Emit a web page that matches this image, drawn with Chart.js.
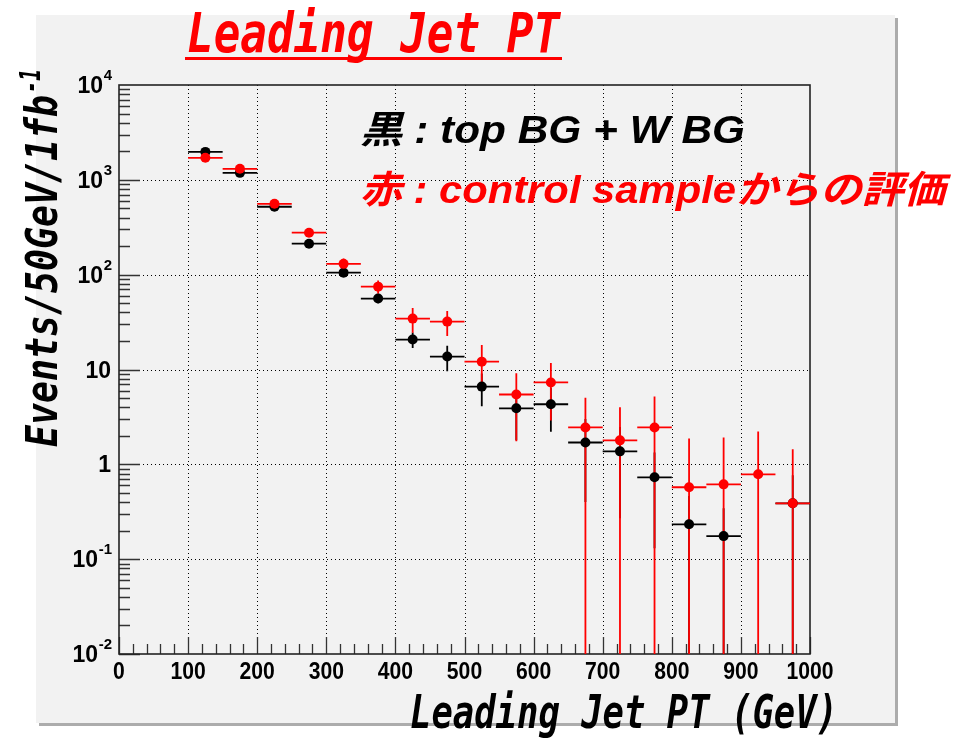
<!DOCTYPE html>
<html>
<head>
<meta charset="utf-8">
<script src="https://cdn.jsdelivr.net/npm/chart.js@4.4.1/dist/chart.umd.min.js"></script>
<style>
  html, body { margin: 0; padding: 0; background: #fff; }
  #wrap { width: 969px; height: 739px; }
</style>
</head>
<body>
<div id="wrap"><canvas id="ptChart" width="969" height="739"></canvas></div>
<script>
// bins of 50 GeV, centre values
const binCenters = [125, 175, 225, 275, 325, 375, 425, 475, 525, 575, 625, 675, 725, 775, 825, 875, 925, 975];
const binHalfWidth = 25;

// black: top BG + W BG
const topWBG    = [1970, 1185, 520, 212, 105, 56, 20.7, 13.7, 6.6, 3.9, 4.3, 1.7, 1.37, 0.73, 0.233, 0.175, null, 0.388];
const topWBGErr = [110, 70, 35, 18, 10, 6, 3.8, 4.1, 2.5, 2.1, 2.1, 1.3, 1.1, 0.6, 0.23, 0.17, null, 0.38];

// red: control sample estimate
const controlEst    = [1706, 1306, 559, 277, 130, 74.8, 34.4, 32, 12.1, 5.45, 7.3, 2.45, 1.79, 2.45, 0.573, 0.615, 0.785, 0.388];
const controlEstErr = [110, 150, 45, 25, 18, 12, 10, 9.5, 6, 3.7, 4.4, 2.6, 2.2, 2.75, 1.3, 1.3, 1.44, 1.05];

// axis ticks
const xTickValues = [0, 100, 200, 300, 400, 500, 600, 700, 800, 900, 1000];
const yTickExps = [-2, -1, 0, 1, 2, 3, 4];
const yTickLabels = [["10", "-2"], ["10", "-1"], ["1", ""], ["10", ""], ["10", "2"], ["10", "3"], ["10", "4"]];

const RED = "#ff0000";

function toPoints(vals) {
  const pts = [];
  vals.forEach((v, i) => { if (v != null) pts.push({x: binCenters[i], y: v}); });
  return pts;
}

// draw text squeezed/stretched to a given width
function fitText(ctx, text, x, y, w, font, color) {
  ctx.save();
  ctx.font = font;
  const m = ctx.measureText(text).width;
  ctx.translate(x, y);
  ctx.scale(w / m, 1);
  ctx.fillStyle = color;
  ctx.textAlign = "left";
  ctx.textBaseline = "alphabetic";
  ctx.fillText(text, 0, 0);
  ctx.restore();
}

function drawErrors(chart, vals, errs, color) {
  const {ctx, chartArea: a} = chart;
  const xs = chart.scales.x, ys = chart.scales.y;
  ctx.save();
  ctx.beginPath();
  ctx.rect(a.left, a.top, a.right - a.left, a.bottom - a.top);
  ctx.clip();
  ctx.strokeStyle = color;
  ctx.lineWidth = 1.8;
  vals.forEach((v, i) => {
    if (v == null) return;
    const e = errs[i];
    const px = xs.getPixelForValue(binCenters[i]);
    const py = ys.getPixelForValue(v);
    const hi = ys.getPixelForValue(v + e);
    const lo = v - e > 0 ? ys.getPixelForValue(v - e) : a.bottom + 2;
    ctx.beginPath();
    ctx.moveTo(xs.getPixelForValue(binCenters[i] - binHalfWidth), py);
    ctx.lineTo(xs.getPixelForValue(binCenters[i] + binHalfWidth), py);
    ctx.moveTo(px, hi);
    ctx.lineTo(px, lo);
    ctx.stroke();
  });
  ctx.restore();
}

const rootFrame = {
  id: "rootFrame",
  beforeDraw(chart) {
    const ctx = chart.ctx;
    ctx.save();
    ctx.fillStyle = "#ffffff";
    ctx.fillRect(0, 0, chart.width, chart.height);
    // pad shadow + pad
    ctx.fillStyle = "#acacac";
    ctx.fillRect(39, 18, 859, 708);
    ctx.fillStyle = "#f2f2f2";
    ctx.fillRect(36, 15, 859, 708);
    ctx.restore();
  },
  beforeDatasetsDraw(chart) {
    const {ctx, chartArea: a} = chart;
    const xs = chart.scales.x, ys = chart.scales.y;
    ctx.save();
    // dotted grid
    ctx.strokeStyle = "#000";
    ctx.lineWidth = 1;
    ctx.setLineDash([1, 3]);
    ctx.beginPath();
    xTickValues.slice(1, -1).forEach(v => {
      const px = Math.round(xs.getPixelForValue(v)) + 0.5;
      ctx.moveTo(px, a.top); ctx.lineTo(px, a.bottom);
    });
    yTickExps.slice(1, -1).forEach(e => {
      const py = Math.round(ys.getPixelForValue(Math.pow(10, e))) + 0.5;
      ctx.moveTo(a.left, py); ctx.lineTo(a.right, py);
    });
    ctx.stroke();
    ctx.setLineDash([]);

    // ticks
    ctx.strokeStyle = "#333";
    ctx.lineWidth = 1.3;
    ctx.beginPath();
    for (let v = 0; v <= 1000; v += 20) {
      const px = Math.round(xs.getPixelForValue(v)) + 0.5;
      const len = v % 100 === 0 ? 17 : 10;
      ctx.moveTo(px, a.bottom); ctx.lineTo(px, a.bottom - len);
    }
    for (let e = -2; e < 4; e++) {
      for (let k = 1; k <= 9; k++) {
        const py = Math.round(ys.getPixelForValue(k * Math.pow(10, e))) + 0.5;
        const len = k === 1 ? 21 : 11;
        ctx.moveTo(a.left, py); ctx.lineTo(a.left + len, py);
      }
    }
    ctx.stroke();

    // frame
    ctx.strokeStyle = "#222";
    ctx.lineWidth = 1.6;
    ctx.strokeRect(a.left, a.top, a.right - a.left, a.bottom - a.top);
    ctx.restore();

    drawErrors(chart, topWBG, topWBGErr, "#000");
    drawErrors(chart, controlEst, controlEstErr, RED);
  },
  afterDraw(chart) {
    const {ctx} = chart;
    const xs = chart.scales.x, ys = chart.scales.y;
    const tickFont = "bold 23px 'Liberation Sans', Arial, sans-serif";
    ctx.save();
    // x tick labels
    ctx.fillStyle = "#000";
    ctx.textBaseline = "alphabetic";
    xTickValues.forEach(v => {
      const s = String(v);
      ctx.font = tickFont;
      const w = ctx.measureText(s).width * 0.92;
      fitText(ctx, s, xs.getPixelForValue(v) - w / 2, 679, w, tickFont, "#000");
    });

    // y tick labels with exponents
    ctx.textAlign = "right";
    yTickExps.forEach((e, i) => {
      const py = ys.getPixelForValue(Math.pow(10, e));
      const [base, exp] = yTickLabels[i];
      let right = 112;
      if (exp) {
        ctx.font = "bold 15px 'Liberation Sans', Arial, sans-serif";
        ctx.fillText(exp, right, py - 5);
        right -= ctx.measureText(exp).width + 0.5;
      }
      ctx.font = tickFont;
      ctx.fillText(base, exp ? right : 111, py + 8);
    });
    ctx.restore();

    // title
    fitText(ctx, "Leading Jet PT", 187, 52, 373, "italic bold 55px 'DejaVu Sans Mono', monospace", RED);
    ctx.fillStyle = RED;
    ctx.fillRect(185, 57, 377, 3);

    // x axis title
    fitText(ctx, "Leading Jet PT (GeV)", 410, 728, 428, "italic bold 46px 'DejaVu Sans Mono', monospace", "#000");

    // y axis title (rotated)
    ctx.save();
    ctx.translate(57, 447);
    ctx.rotate(-Math.PI / 2);
    fitText(ctx, "Events/50GeV/1fb", 0, 0, 352, "italic bold 44px 'DejaVu Sans Mono', monospace", "#000");
    fitText(ctx, "-1", 354, -17, 24, "italic bold 28px 'DejaVu Sans Mono', monospace", "#000");
    ctx.restore();

    // annotation text
    const legFont = "italic bold 38px 'Liberation Sans', 'Noto Sans CJK JP', sans-serif";
    fitText(ctx, "黒 : top BG + W BG", 360, 143, 385, legFont, "#000");
    fitText(ctx, "赤 : control sampleからの評価", 360, 203, 585, legFont, RED);
  }
};

new Chart(document.getElementById("ptChart"), {
  type: "scatter",
  data: {
    datasets: [
      {
        label: "top BG + W BG",
        data: toPoints(topWBG),
        order: 2,
        pointRadius: 5,
        pointBackgroundColor: "#000",
        pointBorderWidth: 0,
        showLine: false
      },
      {
        label: "control sample",
        data: toPoints(controlEst),
        order: 1,
        pointRadius: 5,
        pointBackgroundColor: RED,
        pointBorderWidth: 0,
        showLine: false
      }
    ]
  },
  options: {
    responsive: false,
    devicePixelRatio: 1,
    animation: false,
    layout: {padding: {left: 119, right: 159, top: 85, bottom: 85}},
    scales: {
      x: {type: "linear", min: 0, max: 1000, display: false},
      y: {type: "logarithmic", min: 0.01, max: 10000, display: false}
    },
    plugins: {legend: {display: false}, tooltip: {enabled: false}}
  },
  plugins: [rootFrame]
});
</script>
</body>
</html>
